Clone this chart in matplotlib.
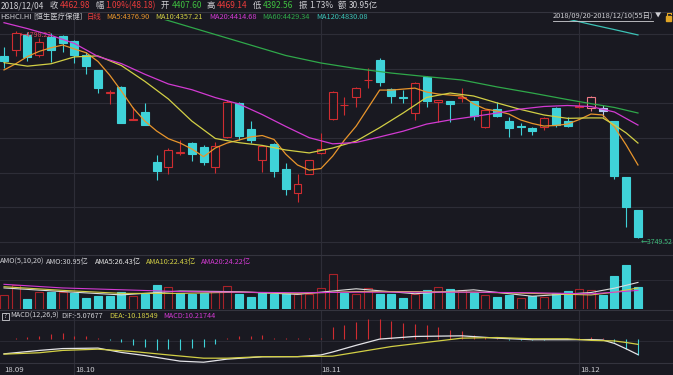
import numpy as np
import matplotlib
matplotlib.use('Agg')
import matplotlib.pyplot as plt

plt.rcParams['font.family'] = ['Noto Sans CJK SC', 'DejaVu Sans']
plt.rcParams['axes.unicode_minus'] = False

# 恒生医疗保健 HSHCI.HI 日线 2018/09/20 - 2018/12/10 (55日)
opens = [4670.4, 4700.8, 4778.0, 4675.5, 4766.6, 4771.6, 4746.3, 4675.5, 4599.6, 4480.7,
         4513.6, 4349.1, 4387.1, 4134.1, 4108.8, 4181.0, 4230.2, 4210.0, 4108.8, 4260.6,
         4432.6, 4301.1, 4144.2, 4225.2, 4098.7, 3977.2, 4073.4, 4179.6, 4351.7, 4420.0,
         4463.0, 4546.5, 4650.2, 4503.5, 4463.0, 4382.0, 4564.2, 4440.2, 4442.7, 4460.4,
         4442.7, 4311.2, 4402.3, 4341.5, 4318.0, 4306.1, 4311.2, 4407.3, 4341.5, 4412.0,
         4407.60, 4407.3, 4341.5, 4058.2, 3891.2]
highs = [4716.0, 4798.22, 4790.0, 4761.5, 4786.8, 4776.7, 4751.4, 4690.7, 4601.0, 4498.4,
         4518.7, 4412.4, 4432.6, 4169.5, 4204.9, 4245.4, 4235.3, 4220.1, 4235.3, 4447.8,
         4437.7, 4341.5, 4220.1, 4230.2, 4129.1, 4073.4, 4146.0, 4280.8, 4491.0, 4463.0,
         4513.6, 4609.7, 4660.3, 4506.0, 4498.4, 4538.9, 4569.2, 4447.8, 4445.0, 4508.6,
         4445.0, 4399.0, 4437.7, 4361.8, 4331.4, 4311.2, 4361.8, 4412.4, 4361.8, 4437.7,
         4469.14, 4422.5, 4344.0, 4060.0, 3893.0]
lows = [4609.7, 4670.4, 4645.1, 4665.4, 4640.1, 4690.7, 4635.0, 4579.4, 4483.2, 4427.6,
        4329.0, 4346.6, 4319.0, 4043.0, 4073.4, 4169.5, 4139.2, 4118.9, 4078.4, 4258.0,
        4245.4, 4230.2, 4083.5, 4058.2, 3967.1, 3931.7, 4071.0, 4174.6, 4346.6, 4371.9,
        4412.4, 4508.6, 4518.7, 4432.6, 4432.6, 4346.6, 4412.4, 4336.5, 4336.5, 4437.7,
        4346.6, 4306.1, 4361.8, 4260.6, 4270.7, 4270.7, 4296.0, 4311.2, 4311.2, 4407.3,
        4392.56, 4361.8, 4048.1, 3805.2, 3749.52]
closes = [4645.1, 4785.0, 4665.4, 4741.3, 4700.8, 4736.2, 4675.5, 4619.8, 4508.6, 4485.8,
          4331.4, 4351.7, 4321.3, 4088.6, 4194.8, 4182.2, 4174.6, 4134.1, 4215.1, 4437.7,
          4265.6, 4245.4, 4215.1, 4088.6, 3997.5, 4022.8, 4144.2, 4199.9, 4488.3, 4425.0,
          4508.6, 4549.0, 4538.9, 4468.0, 4460.4, 4533.9, 4442.7, 4445.3, 4427.6, 4463.0,
          4366.8, 4397.2, 4366.8, 4308.0, 4312.0, 4291.0, 4356.7, 4321.3, 4316.2, 4414.8,
          4462.98, 4392.1, 4063.2, 3906.4, 3754.6]
prev_close = 4600.0

# 成交额 (亿)
amount = [22.3, 38.9, 15.2, 27.8, 27.8, 27.8, 25.2, 17.9, 21.2, 21.2,
          26.8, 20.7, 23.5, 38.9, 36.1, 25.2, 23.5, 25.2, 29.5, 37.2,
          23.5, 19.5, 25.2, 23.5, 25.2, 23.5, 23.5, 33.4, 56.6, 26.2,
          23.5, 34.4, 23.5, 23.5, 16.9, 23.5, 30.6, 36.1, 31.8, 30.6,
          25.2, 22.3, 19.5, 22.3, 16.9, 20.7, 19.5, 25.2, 29.0, 31.8,
          30.95, 22.3, 54.3, 72.0, 36.1]

# moving averages as drawn in the screenshot
ma5 = [4600, 4631, 4668, 4694, 4712, 4726, 4706, 4687, 4643, 4574,
       4493, 4407, 4341, 4291, 4252, 4230, 4200, 4161, 4205, 4230,
       4245, 4261, 4268, 4248, 4174, 4119, 4093, 4101, 4164, 4245,
       4316, 4407, 4498, 4498, 4503, 4508, 4488, 4478, 4473, 4468,
       4428, 4402, 4392, 4377, 4347, 4329, 4316, 4319, 4326, 4349,
       4376.90, 4372, 4311, 4220, 4119]
ma10_day = list(range(0, 50, 2)) + [50, 51, 52, 53, 54]
ma10 = [4637, 4619, 4631, 4666, 4671, 4622, 4542, 4453, 4341, 4253,
        4232, 4218, 4195, 4180, 4205, 4240, 4308, 4382, 4461, 4483,
        4468, 4433, 4400, 4372, 4355, 4357.21, 4357, 4321, 4281, 4230]
ma20_day = list(range(0, 56, 2))
ma20 = [4839, 4809, 4775, 4734, 4668, 4632, 4578, 4529, 4500, 4460,
        4428, 4374, 4314, 4257, 4226, 4233, 4261, 4290, 4326, 4347,
        4364, 4382, 4402, 4415, 4420, 4414.68, 4387, 4321]
ma60_day = [12, 15, 18, 21, 24, 27, 30, 33, 36, 39, 42, 45, 48, 50, 52, 54]
ma60 = [4885, 4832, 4779, 4726, 4673, 4635, 4607, 4584, 4566, 4549, 4514, 4483, 4450, 4429.34, 4410, 4382]
ma120_day = [46, 50, 52, 54]
ma120 = [4885, 4830.08, 4804, 4777]

ama_day = [0, 5, 10, 15, 20, 25, 30, 35, 40, 45, 50, 52, 54]
ama5 = [34, 28, 22.5, 28.9, 27.8, 23.4, 32.6, 24.4, 30.9, 20.3, 26.43, 33.7, 43.1]
ama10 = [36, 30, 25, 25, 27, 25, 28, 28, 27, 25, 22.43, 27, 34]
ama20 = [40, 34, 31, 28, 27, 26, 27, 27, 27, 26, 24.22, 27, 30]

dif_day = [0, 3, 5, 8, 10, 12, 15, 17, 19, 22, 25, 27, 28, 30, 32, 35, 39, 42, 45, 48, 50, 51, 52, 53, 54]
dif = [-97, -75, -63, -60, -88, -108, -144, -151, -131, -116, -115, -104, -85, -42, -2, 15, 19, 4,
       -6, -6, -5.08, -8, -30, -65, -102]
dea_day = [0, 3, 5, 8, 11, 14, 17, 19, 22, 25, 28, 33, 39, 42, 45, 48, 50, 52, 53, 54]
dea = [-99, -90, -75, -67, -82, -104, -125, -125, -115, -115, -112, -50, 4, 8, 0, 0, -10.19, -14, -24, -36]
macd = [-3, 6, 13, 21, 32, 37, 20, 21, 6, -6,
        -21, -39, -55, -72, -65, -72, -62, -54, -32, 6,
        15, 21, 26, 6, 3, 4, 3, 6, 76, 87,
        108, 130, 130, 115, 102, 98, 87, 76, 59, 50,
        22, 11, 5, -5, -6, -6, -5, -3, 0, 3,
        10.22, 8, -22, -65, -104]

month_day = [0, 6, 27, 49]
month_lbl = ['18.09', '18.10', '18.11', '18.12']

BG = '#191921'
GRID = '#2d2d37'
RED = '#cf2c31'
VRED = '#a82229'
CYAN = '#3fd2d8'
WHITE = '#cfcfd4'
ORANGE = '#e8952c'
YELLOW = '#d2cf45'
MAGENTA = '#d23ad2'
GREEN = '#2fa84a'
TEAL = '#3cc2b6'

W, H = 673, 375
fig = plt.figure(figsize=(W / 100, H / 100), dpi=100, facecolor=BG)


def panel(top, bottom):
    ax = fig.add_axes([0, 1 - bottom / H, 1, (bottom - top) / H])
    ax.set_facecolor(BG)
    ax.set_xlim(-4 / 11.74, (W - 4) / 11.74)
    for s in ax.spines.values():
        s.set_visible(False)
    ax.set_xticks([])
    ax.set_yticks([])
    for d in month_day[1:]:
        ax.axvline(d, color=GRID, lw=0.8, zorder=0)
    return ax


n = len(closes)
xs = np.arange(n)
o, h, l, c = map(np.array, (opens, highs, lows, closes))
bw = 0.68

# ---- main price panel ----
ax = panel(20, 255)
ax.set_ylim(3663.5, 4852.6)
for g in np.linspace(3729.3, 4781.8, 7):
    ax.axhline(g, color=GRID, lw=0.8, zorder=0)

up = c >= o
top = np.maximum(o, c)
bot = np.minimum(o, c)
body = np.maximum(top - bot, 3)
edge = np.where(up, RED, CYAN).tolist()
face = np.where(up, BG, CYAN).tolist()
edge[50] = '#ee7a86'
face[51] = '#b4c8f2'
edge[51] = '#b4c8f2'
wick_col = list(edge)
ax.vlines(xs, top, h, colors=wick_col, lw=0.8, zorder=2)
ax.vlines(xs, l, bot, colors=wick_col, lw=0.8, zorder=2)
ax.bar(xs, body, bw, bot, color=face, edgecolor=edge, lw=0.8, zorder=3)

ax.plot(xs, ma5, color=ORANGE, lw=0.9, zorder=4)
ax.plot(ma10_day, ma10, color=YELLOW, lw=0.9, zorder=4)
ax.plot(ma20_day, ma20, color=MAGENTA, lw=0.9, zorder=4)
ax.plot(ma60_day, ma60, color=GREEN, lw=0.9, zorder=4)
ax.plot(ma120_day, ma120, color=TEAL, lw=0.9, zorder=4)

hi = int(np.argmax(h))
lo = int(np.argmin(l))
ax.annotate('\u2190' + f'{h[hi]:.2f}', (hi + 0.1, h[hi]), xytext=(2, -3), textcoords='offset points',
            color='#e0435c', fontsize=5.0, va='center', ha='left')
ax.annotate('\u2190' + f'{l[lo]:.2f}', (lo + 0.1, l[lo]), xytext=(1, -3), textcoords='offset points',
            color='#3dba7a', fontsize=5.0, va='center', ha='left')

# ---- amount panel ----
av = panel(255, 308.5)
av.set_ylim(0, 88.5)
av.axhline(47, color=GRID, lw=0.6, zorder=0)
vup = [closes[i] >= (closes[i - 1] if i else prev_close) for i in range(n)]
vface = [BG if u else CYAN for u in vup]
vedge = [VRED if u else CYAN for u in vup]
av.bar(xs, amount, bw, color=vface, edgecolor=vedge, lw=0.8, zorder=2)
av.plot(ama_day, ama5, color='#dcdcdc', lw=0.8, zorder=3)
av.plot(ama_day, ama10, color=YELLOW, lw=0.8, zorder=3)
av.plot(ama_day, ama20, color=MAGENTA, lw=0.8, zorder=3)

# ---- MACD panel ----
am = panel(309.5, 363)
am.set_ylim(-156, 188.5)
am.axhline(123.5, color=GRID, lw=0.6, zorder=0)
am.axhline(-13, color=GRID, lw=0.6, zorder=0)
mcol = [RED if v >= 0 else CYAN for v in macd]
am.vlines(xs, 0, macd, colors=mcol, lw=0.8, zorder=2)
am.plot(dif_day, dif, color='#e4e4e8', lw=0.9, zorder=3)
am.plot(dea_day, dea, color=YELLOW, lw=0.9, zorder=3)

# ---- date row ----
ad = panel(363, 375)
ad.set_ylim(0, 1)
for d, s in zip(month_day, month_lbl):
    ad.text(d + 0.05, 0.45, s, color=WHITE, fontsize=5.6, va='center', ha='left')

# ---- overlay: separators and header texts in pixel space ----
ov = fig.add_axes([0, 0, 1, 1])
ov.set_xlim(0, W)
ov.set_ylim(H, 0)
ov.axis('off')
ov.patch.set_visible(False)
for yy in (11.5, 255, 309.5, 363):
    ov.plot([0, W], [yy, yy], color='#34343e', lw=0.8)

rend = fig.canvas.get_renderer()


def row(items, x0, y, size):
    xx = x0
    for s, col, gap in items:
        t = ov.text(xx, y, s, color=col, fontsize=size, ha='left', va='center')
        xx = t.get_window_extent(rend).x1 + gap
    return xx


R1 = '#ea3b3b'
G1 = '#3fc040'
row([('2018/12/04', WHITE, 5), ('收', WHITE, 2), ('4462.98', R1, 5), ('幅', WHITE, 2),
     ('1.09%(48.18)', R1, 5), ('开', WHITE, 2), ('4407.60', G1, 5), ('高', WHITE, 2),
     ('4469.14', R1, 5), ('低', WHITE, 2), ('4392.56', G1, 5), ('振', WHITE, 2),
     ('1.73%', WHITE, 5), ('额', WHITE, 2), ('30.95亿', WHITE, 0)], 1, 5.5, 6.0)

row([('HSHCI.HI', WHITE, 2), ('[恒生医疗保健]', WHITE, 4), ('日线', R1, 5),
     ('MA5:4376.90', ORANGE, 6), ('MA10:4357.21', YELLOW, 6), ('MA20:4414.68', MAGENTA, 6),
     ('MA60:4429.34', GREEN, 6), ('MA120:4830.08', TEAL, 0)], 0, 17, 5.3)

rng = ov.text(653, 16, '2018/09/20-2018/12/10(55日)', color=WHITE, fontsize=5.3, ha='right', va='center')
bb = rng.get_window_extent(rend)
ov.plot([bb.x0, bb.x1], [20.5, 20.5], color=WHITE, lw=0.6)
ov.text(655, 16, '\u25bc', color=WHITE, fontsize=4.5, ha='left', va='center')
ov.add_patch(plt.Rectangle((665.5, 15.5), 5.5, 5, color='#e0a526'))
ov.plot([667, 667, 670.5, 670.5], [15.5, 12.5, 12.5, 14], color='#e0a526', lw=0.8)

row([('AMO(5,10,20)', WHITE, 2), ('AMO:30.95亿', WHITE, 6), ('AMA5:26.43亿', '#e2e2e2', 5),
     ('AMA10:22.43亿', YELLOW, 5), ('AMA20:24.22亿', MAGENTA, 0)], 0, 262, 5.2)

ov.add_patch(plt.Rectangle((2, 312.5), 6.5, 7.5, fill=False, edgecolor=WHITE, lw=0.6))
ov.text(5.25, 316.3, '?', color=WHITE, fontsize=4.5, ha='center', va='center')
row([('MACD(12,26,9)', WHITE, 2), ('DIF:-5.07677', WHITE, 6), ('DEA:-10.18549', YELLOW, 6),
     ('MACD:10.21744', MAGENTA, 0)], 10.5, 316, 5.2)

fig.savefig('out.png', dpi=100, facecolor=BG)
